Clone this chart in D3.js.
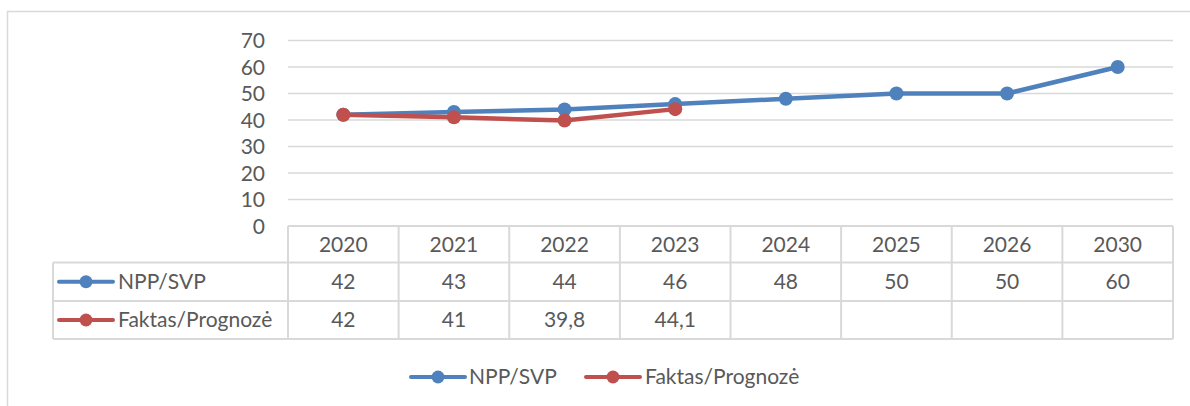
<!DOCTYPE html>
<html><head><meta charset="utf-8">
<script src="https://cdn.jsdelivr.net/npm/d3@7"></script>
<style>body{margin:0;background:#fff;}svg{display:block;font-family:Lato,"Open Sans",sans-serif;}</style>
</head><body><svg id="c" width="1190" height="406"></svg>
<script>
const categories = ["2020","2021","2022","2023","2024","2025","2026","2030"];
const npp = [42,43,44,46,48,50,50,60];
const faktas = [42,41,39.8,44.1,null,null,null,null];
const faktasLabels = ["42","41","39,8","44,1","","","",""];
const yTicks = [0,10,20,30,40,50,60,70];
const seriesNames = ["NPP/SVP","Faktas/Prognozė"];
const colors = ["#4F81BD","#C0504D"];

const svg = d3.select("#c");
const txt = "#595959", grid = "#d9d9d9";
const fs = 21;

// outer chart border
svg.append("rect").attr("x",7.5).attr("y",11.5).attr("width",1200).attr("height",420)
  .attr("fill","none").attr("stroke",grid).attr("stroke-width",1.5);

const x0 = 288, x1 = 1173;
const x = d3.scaleBand().domain(categories).range([x0,x1]);
const y = d3.scaleLinear().domain([0,70]).range([226,40.5]);

// gridlines
svg.append("g").selectAll("line").data(yTicks.filter(d=>d>0)).join("line")
  .attr("x1",x0).attr("x2",x1).attr("y1",d=>y(d)).attr("y2",d=>y(d))
  .attr("stroke",grid).attr("stroke-width",1.5);

// y axis labels
const yAxis = d3.axisLeft(y).tickValues(yTicks).tickSize(0).tickPadding(0);
const ga = svg.append("g").attr("transform","translate(265,0)").call(yAxis);
ga.select(".domain").remove();
ga.selectAll("text").attr("fill",txt).attr("font-size",fs).attr("font-family","Lato,'Open Sans',sans-serif").attr("dy","0.35em");

// table
const rows = [226, 262.5, 301, 339];
const tl = 53;
const tg = svg.append("g").attr("stroke",grid).attr("stroke-width",2).attr("fill","none");
tg.append("line").attr("x1",x0).attr("x2",x1).attr("y1",rows[0]).attr("y2",rows[0]);
[1,2,3].forEach(i=>tg.append("line").attr("x1",tl).attr("x2",x1).attr("y1",rows[i]).attr("y2",rows[i]));
categories.forEach(c=>tg.append("line").attr("x1",x(c)).attr("x2",x(c)).attr("y1",rows[0]).attr("y2",rows[3]));
tg.append("line").attr("x1",x1).attr("x2",x1).attr("y1",rows[0]).attr("y2",rows[3]);
tg.append("line").attr("x1",tl).attr("x2",tl).attr("y1",rows[1]).attr("y2",rows[3]);

const cx = c => x(c)+x.bandwidth()/2;
const rowMid = i => (rows[i]+rows[i+1])/2;
const tt = svg.append("g").attr("fill",txt).attr("font-size",fs).attr("text-anchor","middle");
categories.forEach((c,i)=>{
  tt.append("text").attr("x",cx(c)).attr("y",rowMid(0)).attr("dy","0.35em").text(c);
  tt.append("text").attr("x",cx(c)).attr("y",rowMid(1)).attr("dy","0.35em").text(npp[i]);
  tt.append("text").attr("x",cx(c)).attr("y",rowMid(2)).attr("dy","0.35em").text(faktasLabels[i]);
});

function legendKey(g, xs, yc, color){
  g.append("line").attr("x1",xs).attr("x2",xs+54).attr("y1",yc).attr("y2",yc)
    .attr("stroke",color).attr("stroke-width",4).attr("stroke-linecap","round");
  g.append("circle").attr("cx",xs+27).attr("cy",yc).attr("r",6.5).attr("fill",color);
}
[0,1].forEach(i=>{
  const yc = rowMid(i+1);
  legendKey(svg, 59, yc, colors[i]);
  svg.append("text").attr("x",118).attr("y",yc).attr("dy","0.35em").attr("fill",txt).attr("font-size",fs).text(seriesNames[i]);
});

// lines
const line = d3.line().defined(d=>d.v!=null).x(d=>cx(d.c)).y(d=>y(d.v));
const data = [npp, faktas].map(s=>categories.map((c,i)=>({c, v:s[i]})));
data.forEach((d,k)=>{
  svg.append("path").datum(d).attr("d",line).attr("fill","none").attr("stroke",colors[k])
    .attr("stroke-width",4.5).attr("stroke-linejoin","round");
  svg.append("g").selectAll("circle").data(d.filter(p=>p.v!=null)).join("circle")
    .attr("cx",p=>cx(p.c)).attr("cy",p=>y(p.v)).attr("r",7).attr("fill",colors[k]);
});

// bottom legend
const lg = svg.append("g");
legendKey(lg, 411, 377, colors[0]);
lg.append("text").attr("x",469).attr("y",377).attr("dy","0.35em").attr("fill",txt).attr("font-size",fs).text(seriesNames[0]);
legendKey(lg, 586, 377, colors[1]);
lg.append("text").attr("x",645).attr("y",377).attr("dy","0.35em").attr("fill",txt).attr("font-size",fs).text(seriesNames[1]);
</script></body></html>
